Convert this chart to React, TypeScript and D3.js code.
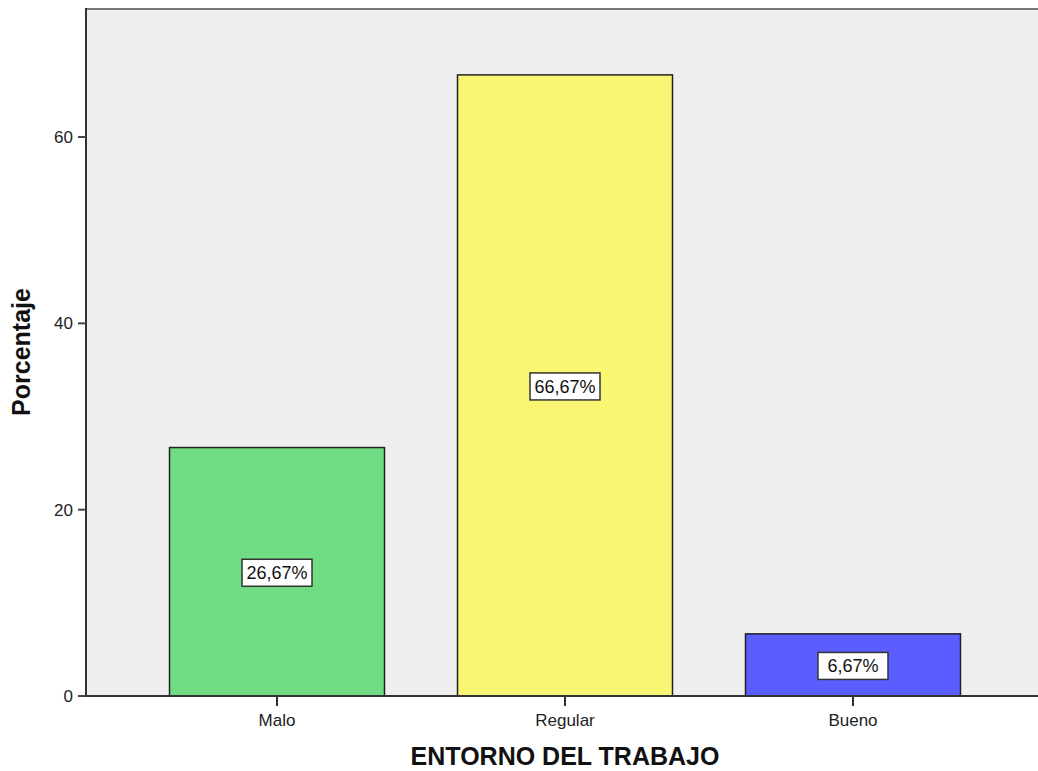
import React from "react";
import * as d3 from "d3";

const categories = ["Malo", "Regular", "Bueno"];
const percentages = [26.67, 66.67, 6.67];
const barColors = ["#70dd84", "#f9f674", "#5a5eff"];
const yTicks = [0, 20, 40, 60];
const yMax = 73.85;

const W = 1038;
const H = 771;
const plot = { left: 86, top: 8, bottom: 696, right: 1044 };
const FONT = "'Liberation Sans', Arial, sans-serif";

const fmt = (v: number) => v.toFixed(2).replace(".", ",") + "%";

export default function App() {
  const x = d3
    .scaleBand<string>()
    .domain(categories)
    .range([plot.left, plot.right])
    .paddingInner(0.2535)
    .paddingOuter(0.29);
  const y = d3.scaleLinear().domain([0, yMax]).range([plot.bottom, plot.top]);

  return (
    <svg
      width={W}
      height={H}
      style={{ position: "absolute", left: 0, top: 0, background: "#fff" }}
      fontFamily={FONT}
    >
      {/* plot background */}
      <rect
        x={plot.left}
        y={plot.top}
        width={W - plot.left}
        height={plot.bottom - plot.top}
        fill="#efefef"
      />
      <line x1={plot.left} x2={W} y1={plot.top + 1} y2={plot.top + 1} stroke="#7a7a7a" strokeWidth={2} />

      {/* bars */}
      {categories.map((c, i) => (
        <rect
          key={c}
          x={x(c)}
          y={y(percentages[i])}
          width={x.bandwidth()}
          height={y(0) - y(percentages[i])}
          fill={barColors[i]}
          stroke="#222"
          strokeWidth={1.5}
        />
      ))}

      {/* value labels */}
      {categories.map((c, i) => {
        const cx = (x(c) as number) + x.bandwidth() / 2;
        const cy = (y(percentages[i]) + y(0)) / 2 + 1;
        const bw = 70;
        const bh = 27;
        return (
          <g key={c + "-lbl"}>
            <rect
              x={cx - bw / 2}
              y={cy - bh / 2}
              width={bw}
              height={bh}
              fill="#fff"
              stroke="#333"
              strokeWidth={1.5}
            />
            <text x={cx} y={cy + 6.5} textAnchor="middle" fontSize={18} fill="#111">
              {fmt(percentages[i])}
            </text>
          </g>
        );
      })}

      {/* y axis */}
      <line x1={plot.left} x2={plot.left} y1={plot.top} y2={plot.bottom} stroke="#333" strokeWidth={2} />
      {yTicks.map((t) => (
        <g key={t}>
          <line x1={plot.left - 8} x2={plot.left} y1={y(t)} y2={y(t)} stroke="#444" strokeWidth={2} />
          <text x={plot.left - 13} y={y(t) + 6} textAnchor="end" fontSize={17} fill="#222">
            {t}
          </text>
        </g>
      ))}

      {/* x axis */}
      <line x1={plot.left} x2={W} y1={plot.bottom} y2={plot.bottom} stroke="#333" strokeWidth={2} />
      {categories.map((c) => {
        const cx = (x(c) as number) + x.bandwidth() / 2;
        return (
          <g key={c + "-tick"}>
            <line x1={cx} x2={cx} y1={plot.bottom} y2={plot.bottom + 10} stroke="#333" strokeWidth={2} />
            <text x={cx} y={plot.bottom + 30} textAnchor="middle" fontSize={17} fill="#222">
              {c}
            </text>
          </g>
        );
      })}

      {/* axis titles */}
      <text
        transform={`translate(30, 352) rotate(-90)`}
        textAnchor="middle"
        fontSize={25}
        fontWeight="bold"
        fill="#111"
      >
        Porcentaje
      </text>
      <text x={565} y={765} textAnchor="middle" fontSize={25} fontWeight="bold" fill="#111">
        ENTORNO DEL TRABAJO
      </text>
    </svg>
  );
}
